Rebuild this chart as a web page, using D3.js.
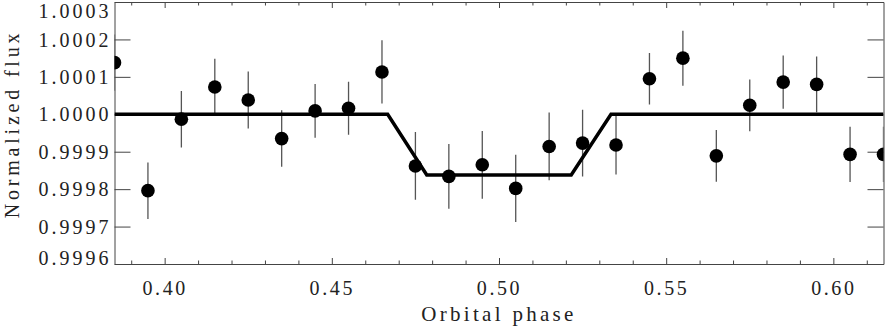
<!DOCTYPE html>
<html>
<head>
<meta charset="utf-8">
<script src="https://cdn.jsdelivr.net/npm/d3@7"></script>
<style>
  body { margin: 0; background: #fff; }
  svg { display: block; }
  text { font-family: "Liberation Serif", "DejaVu Serif", serif; fill: #222; }
</style>
</head>
<body>
<div class="chart"></div>
<script>
// observed phases, fluxes and 1-sigma errors
var phase = [0.385, 0.395, 0.405, 0.415, 0.425, 0.435, 0.445, 0.455, 0.465, 0.475, 0.485, 0.495,
             0.505, 0.515, 0.525, 0.535, 0.545, 0.555, 0.565, 0.575, 0.585, 0.595, 0.605, 0.615];
var flux = [1.000138, 0.999796, 0.999987, 1.000073, 1.000038, 0.999935, 1.000009, 1.000016,
            1.000113, 0.999862, 0.999834, 0.999865, 0.999802, 0.999914, 0.999923, 0.999918,
            1.000095, 1.000150, 0.999889, 1.000024, 1.000086, 1.000080, 0.999893, 0.999893];
var fluxErr = [0.0000750, 0.0000755, 0.0000755, 0.0000755, 0.0000760, 0.0000755, 0.0000720, 0.0000710,
               0.0000845, 0.0000905, 0.0000865, 0.0000905, 0.0000900, 0.0000905, 0.0000890, 0.0000790,
               0.0000690, 0.0000735, 0.0000690, 0.0000690, 0.0000710, 0.0000745, 0.0000740, 0.0000740];

// eclipse model (trapezoid)
var modelPhase = [0.385, 0.4667, 0.4784, 0.5216, 0.5335, 0.615];
var modelFlux = [1.0, 1.0, 0.999838, 0.999838, 1.0, 1.0];

// ticks
var xMajor = [0.40, 0.45, 0.50, 0.55, 0.60];
var xTickLabels = ["0.40", "0.45", "0.50", "0.55", "0.60"];
var xMinor = [0.39, 0.41, 0.42, 0.43, 0.44, 0.46, 0.47, 0.48, 0.49, 0.51, 0.52, 0.53,
              0.54, 0.56, 0.57, 0.58, 0.59, 0.61];
var yMajor = [0.9996, 0.9997, 0.9998, 0.9999, 1.0000, 1.0001, 1.0002, 1.0003];
var yTickLabels = ["0.9996", "0.9997", "0.9998", "0.9999", "1.0000", "1.0001", "1.0002", "1.0003"];

function init() {
    var w = 885, h = 328;
    var left = 114.5, right = 883.5, top = 2, bottom = 264;

    var x = d3.scaleLinear().domain([0.385, 0.615]).range([left, right]);
    var y = d3.scaleLinear().domain([0.9996, 1.0003]).range([bottom, top]);

    // 10 minor subdivisions per 0.0001 on y
    var yMinor = d3.range(0, 71).map(function(i) { return 0.9996 + i * 0.00001; });

    var svg = d3.select(".chart")
        .append("svg")
        .attr("width", w)
        .attr("height", h);

    svg.append("clipPath").attr("id", "plot")
        .append("rect")
        .attr("x", left).attr("y", top)
        .attr("width", right - left).attr("height", bottom - top);

    var axisColor = "#444";

    // bottom axis
    var gb = svg.append("g").attr("transform", "translate(0," + bottom + ")");
    gb.call(d3.axisBottom(x).tickValues(xMajor).tickSizeInner(-6).tickSizeOuter(0).tickPadding(17)
        .tickFormat(function(d, i) { return xTickLabels[i]; }));
    gb.append("g").call(d3.axisBottom(x).tickValues(xMinor).tickSizeInner(-3.5).tickSizeOuter(0).tickFormat(""));

    // top axis
    var gt = svg.append("g").attr("transform", "translate(0," + top + ")");
    gt.call(d3.axisTop(x).tickValues(xMajor).tickSizeInner(-6).tickSizeOuter(0).tickFormat(""));
    gt.append("g").call(d3.axisTop(x).tickValues(xMinor).tickSizeInner(-3.5).tickSizeOuter(0).tickFormat(""));

    // left axis
    var gl = svg.append("g").attr("transform", "translate(" + left + ",0)");
    gl.append("g").call(d3.axisLeft(y).tickValues(yMinor).tickSizeInner(-8).tickSizeOuter(0).tickFormat(""));
    gl.call(d3.axisLeft(y).tickValues(yMajor).tickSizeInner(-16).tickSizeOuter(0).tickPadding(4)
        .tickFormat(function(d, i) { return yTickLabels[i]; }));

    // right axis
    var gr = svg.append("g").attr("transform", "translate(" + right + ",0)");
    gr.append("g").call(d3.axisRight(y).tickValues(yMinor).tickSizeInner(-8).tickSizeOuter(0).tickFormat(""));
    gr.call(d3.axisRight(y).tickValues(yMajor).tickSizeInner(-16).tickSizeOuter(0).tickFormat(""));

    svg.selectAll(".domain, .tick line").attr("stroke", axisColor).attr("stroke-width", 1);

    gb.selectAll(".tick text")
        .attr("font-size", 20)
        .attr("letter-spacing", 2.6)
        .attr("fill", "#222");

    // y labels: keep end labels inside the frame
    gl.selectAll(".tick text")
        .attr("font-size", 20)
        .attr("letter-spacing", 3)
        .attr("fill", "#222")
        .attr("x", -3)
        .attr("dy", null)
        .attr("y", function(d) {
            var c = Math.max(11, Math.min(257.5, y(d)));
            return c - y(d) + 6.6;
        });

    // data
    var plot = svg.append("g").attr("clip-path", "url(#plot)");

    var pts = phase.map(function(p, i) { return { p: p, f: flux[i], e: fluxErr[i] }; });

    plot.selectAll("line.err")
        .data(pts)
        .enter()
        .append("line")
        .attr("class", "err")
        .attr("x1", function(d) { return x(d.p); })
        .attr("x2", function(d) { return x(d.p); })
        .attr("y1", function(d) { return y(d.f - d.e); })
        .attr("y2", function(d) { return y(d.f + d.e); })
        .attr("stroke", "#555")
        .attr("stroke-width", 1.3);

    var line = d3.line()
        .x(function(d) { return x(d[0]); })
        .y(function(d) { return y(d[1]); });

    plot.append("path")
        .attr("d", line(modelPhase.map(function(p, i) { return [p, modelFlux[i]]; })))
        .attr("fill", "none")
        .attr("stroke", "#000")
        .attr("stroke-width", 3.5)
        .attr("stroke-linejoin", "miter");

    plot.selectAll("circle")
        .data(pts)
        .enter()
        .append("circle")
        .attr("cx", function(d) { return x(d.p); })
        .attr("cy", function(d) { return y(d.f); })
        .attr("r", 6.8)
        .attr("fill", "#000");

    // axis titles
    svg.append("text")
        .attr("x", (left + right) / 2)
        .attr("y", 321)
        .attr("text-anchor", "middle")
        .attr("font-size", 21)
        .attr("letter-spacing", 3.3)
        .text("Orbital phase");

    svg.append("text")
        .attr("transform", "translate(18.5,124) rotate(-90)")
        .attr("text-anchor", "middle")
        .attr("font-size", 20)
        .attr("letter-spacing", 3.8)
        .text("Normalized flux");
}

init();
</script>
</body>
</html>
